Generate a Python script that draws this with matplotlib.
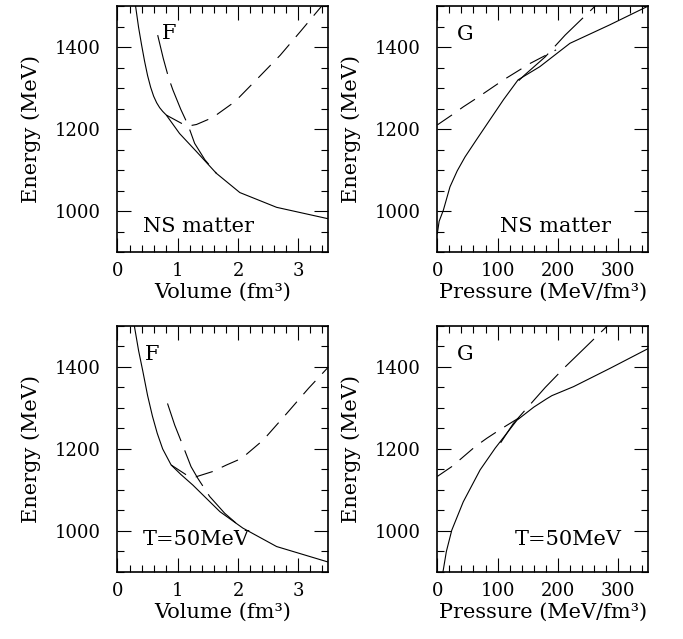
import matplotlib
matplotlib.use("Agg")
import matplotlib.pyplot as plt
from matplotlib.ticker import MultipleLocator

plt.rcParams['font.family'] = ['DejaVu Serif']

# ---- Data: top-left (NS matter, F vs V) ----
ns_F_solid_V = [0.30, 0.35, 0.40, 0.45, 0.50, 0.55, 0.60, 0.65, 0.70, 0.75, 0.81,
                1.03, 1.31, 1.64, 2.03, 2.64, 3.50]
ns_F_solid_E = [1500, 1448, 1405, 1365, 1330, 1302, 1280, 1264, 1252, 1243, 1234,
                1189, 1145, 1092, 1045, 1009, 981]
ns_F_long_V = [0.667, 0.76, 0.85, 0.92, 1.05, 1.17, 1.28, 1.45, 1.64]
ns_F_long_E = [1429, 1372, 1324, 1295, 1248, 1210, 1165, 1125, 1092]
ns_F_short_V = [0.81, 1.06, 1.20, 1.31, 1.58, 1.95, 2.33, 2.70, 3.03, 3.40]
ns_F_short_E = [1234, 1214, 1208, 1211, 1228, 1267, 1324, 1380, 1437, 1502]

# ---- Data: top-right (NS matter, G vs P) ----
ns_G_solid_P = [0, 3, 10, 21, 33, 46, 65, 87, 110, 134, 170, 220, 286, 350]
ns_G_solid_E = [945, 975, 1002, 1059, 1098, 1132, 1174, 1222, 1272, 1320, 1352, 1409, 1454, 1500]
ns_G_long_P = [135, 145, 179, 212, 262]
ns_G_long_E = [1318, 1332, 1376, 1429, 1500]
ns_G_short_P = [0, 24, 43, 65, 85, 110, 154, 197]
ns_G_short_E = [1210, 1234, 1254, 1275, 1295, 1320, 1360, 1393]

# ---- Data: bottom-left (T=50MeV, F vs V) ----
t50_F_solid_V = [0.28, 0.35, 0.42, 0.50, 0.58, 0.66, 0.75, 0.89, 1.05, 1.25, 1.70,
                 2.08, 2.64, 3.50]
t50_F_solid_E = [1500, 1440, 1390, 1330, 1280, 1238, 1200, 1161, 1138, 1112, 1047,
                 1007, 962, 924]
t50_F_long_V = [0.83, 0.95, 1.08, 1.22, 1.33, 1.53, 1.78, 2.00]
t50_F_long_E = [1311, 1258, 1210, 1157, 1129, 1084, 1043, 1015]
t50_F_short_V = [0.89, 1.14, 1.30, 1.58, 1.81, 2.06, 2.42, 2.81, 3.17, 3.50]
t50_F_short_E = [1161, 1137, 1132, 1145, 1161, 1177, 1222, 1287, 1348, 1400]

# ---- Data: bottom-right (T=50MeV, G vs P) ----
t50_G_solid_P = [6, 9, 15, 24, 43, 71, 96, 132, 160, 181, 190, 226, 287, 350]
t50_G_solid_E = [870, 897, 950, 1002, 1071, 1149, 1202, 1270, 1302, 1322, 1330, 1352, 1397, 1445]
t50_G_long_P = [105, 126, 179, 212, 245, 282]
t50_G_long_E = [1215, 1262, 1350, 1400, 1447, 1500]
t50_G_short_P = [0, 24, 40, 63, 82, 107, 129, 150]
t50_G_short_E = [1133, 1157, 1177, 1206, 1226, 1250, 1270, 1288]

panels = [
    dict(pos=(0.1720, 0.6056), xlim=(0, 3.5), xmaj=1, xmin=0.2,
         xlabel='Volume (fm³)', corner='F', corner_xy=(0.86, 1432),
         note='NS matter', note_xy=(0.42, 962),
         solid=(ns_F_solid_V, ns_F_solid_E), long=(ns_F_long_V, ns_F_long_E),
         short=(ns_F_short_V, ns_F_short_E)),
    dict(pos=(0.6403, 0.6056), xlim=(0, 350), xmaj=100, xmin=20,
         xlabel='Pressure (MeV/fm³)', corner='G', corner_xy=(46, 1430),
         note='NS matter', note_xy=(104, 962),
         solid=(ns_G_solid_P, ns_G_solid_E), long=(ns_G_long_P, ns_G_long_E),
         short=(ns_G_short_P, ns_G_short_E)),
    dict(pos=(0.1720, 0.1049), xlim=(0, 3.5), xmaj=1, xmin=0.2,
         xlabel='Volume (fm³)', corner='F', corner_xy=(0.58, 1430),
         note='T=50MeV', note_xy=(0.42, 978),
         solid=(t50_F_solid_V, t50_F_solid_E), long=(t50_F_long_V, t50_F_long_E),
         short=(t50_F_short_V, t50_F_short_E)),
    dict(pos=(0.6403, 0.1049), xlim=(0, 350), xmaj=100, xmin=20,
         xlabel='Pressure (MeV/fm³)', corner='G', corner_xy=(46, 1430),
         note='T=50MeV', note_xy=(128, 978),
         solid=(t50_G_solid_P, t50_G_solid_E), long=(t50_G_long_P, t50_G_long_E),
         short=(t50_G_short_P, t50_G_short_E)),
]

fig = plt.figure(figsize=(6.83, 6.39), dpi=100)
W, H = 0.3089, 0.385
lw = 0.8
for p in panels:
    ax = fig.add_axes([p['pos'][0], p['pos'][1], W, H])
    ax.plot(*p['solid'], color='black', lw=lw)
    ax.plot(*p['long'], color='black', lw=lw, dashes=(36, 9))
    ax.plot(*p['short'], color='black', lw=lw, dashes=(16, 9))
    ax.set_xlim(*p['xlim'])
    ax.set_ylim(900, 1500)
    ax.xaxis.set_major_locator(MultipleLocator(p['xmaj']))
    ax.xaxis.set_minor_locator(MultipleLocator(p['xmin']))
    ax.yaxis.set_major_locator(MultipleLocator(200))
    ax.yaxis.set_minor_locator(MultipleLocator(50))
    ax.tick_params(which='both', direction='in', top=True, right=True, width=0.8)
    ax.tick_params(which='major', length=10, labelsize=13)
    ax.tick_params(which='minor', length=5)
    ax.tick_params(axis='y', which='major', pad=12)
    ax.tick_params(axis='x', which='major', pad=7)
    for s in ax.spines.values():
        s.set_linewidth(1.2)
    ax.set_xlabel(p['xlabel'], fontsize=15, labelpad=2)
    ax.set_ylabel('Energy (MeV)', fontsize=15, labelpad=10)
    ax.text(*p['corner_xy'], p['corner'], fontsize=15, ha='center', va='center')
    ax.text(*p['note_xy'], p['note'], fontsize=15, ha='left', va='center')

fig.savefig('out.png', dpi=100)
